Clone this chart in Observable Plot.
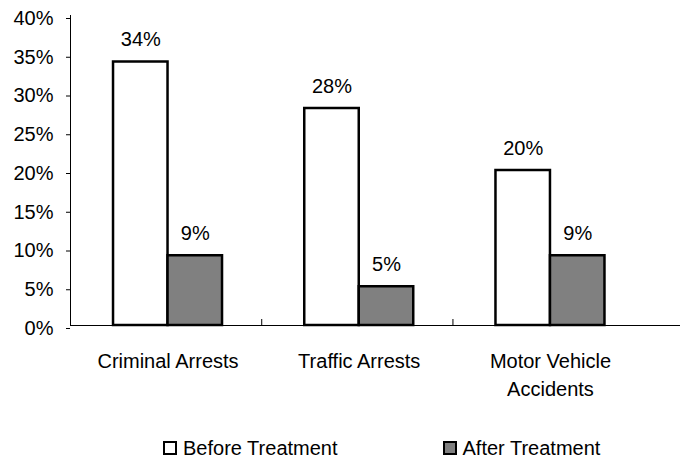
<!DOCTYPE html>
<html>
<head>
<meta charset="utf-8">
<script src="https://cdn.jsdelivr.net/npm/d3@7"></script>
<script src="https://cdn.jsdelivr.net/npm/@observablehq/plot@0.6"></script>
<style>
  html, body { margin: 0; padding: 0; background: #fff; }
  body { width: 680px; font-family: "Liberation Sans", Arial, sans-serif; }
  #chart svg { display: block; }
  #legend { display: flex; align-items: center; padding-left: 163px; margin-top: 8px; font-size: 20px; line-height: 20px; color: #000; }
  .item { display: flex; align-items: center; }
  .sw { width: 10px; height: 10px; border: 2px solid #000; margin-right: 6px; box-sizing: content-box; }
</style>
</head>
<body>
<div id="chart"></div>
<div id="legend"></div>
<script>
const categories = ["Criminal Arrests", "Traffic Arrests", "Motor Vehicle Accidents"];
const series = ["Before Treatment", "After Treatment"];
const beforeValues = [34, 28, 20];
const afterValues = [9, 5, 9];
const yTicks = [0, 5, 10, 15, 20, 25, 30, 35, 40];
const colors = ["#ffffff", "#808080"];

// layout of the two bars inside each category slot (fraction of slot)
const slotStart = [0.225, 0.51];
const slotEnd = [0.51, 0.795];

const rows = [];
categories.forEach((c, i) => {
  [beforeValues[i], afterValues[i]].forEach((v, s) => {
    rows.push({category: c, index: i, series: series[s], s, value: v});
  });
});

const chart = Plot.plot({
  width: 680,
  height: 430,
  marginLeft: 70,
  marginRight: 0,
  marginTop: 15,
  marginBottom: 105,
  style: {fontFamily: "'Liberation Sans', Arial, sans-serif", fontSize: "20px", color: "#000", background: "#fff"},
  x: {domain: [0, 3.19], axis: null},
  y: {domain: [0, 40], axis: null},
  color: {domain: series, range: colors},
  marks: [
    Plot.axisY({ticks: yTicks, tickFormat: d => d + "%", tickSize: 4, tickPadding: 13, dy: 3, label: null, fontSize: 20, stroke: "#000"}),
    Plot.axisX({ticks: [1, 2], tickFormat: () => "", tickSize: -6, label: null, stroke: "#000"}),
    Plot.ruleX([0], {stroke: "#000", strokeWidth: 1}),
    Plot.ruleY([0], {stroke: "#000", strokeWidth: 1}),
    Plot.rectY(rows, {
      x1: d => d.index + slotStart[d.s],
      x2: d => d.index + slotEnd[d.s],
      y1: 0,
      y2: "value",
      fill: "series",
      stroke: "#000",
      strokeWidth: 2.5
    }),
    Plot.text(rows, {
      x: d => d.index + (slotStart[d.s] + slotEnd[d.s]) / 2,
      y: "value",
      text: d => d.value + "%",
      lineAnchor: "bottom",
      dy: -16,
      fontSize: 20,
      fill: "#000"
    }),
    Plot.text(categories, {
      x: (d, i) => i + 0.51,
      y: () => 0,
      text: d => d,
      lineAnchor: "top",
      lineWidth: 8,
      lineHeight: 1.4,
      dy: 23,
      fontSize: 20,
      fill: "#000"
    })
  ]
});
document.getElementById("chart").appendChild(chart);

const legend = document.getElementById("legend");
series.forEach((s, i) => {
  const item = document.createElement("div");
  item.className = "item";
  if (i > 0) item.style.marginLeft = "105px";
  const sw = document.createElement("span");
  sw.className = "sw";
  sw.style.background = colors[i];
  const t = document.createElement("span");
  t.textContent = s;
  item.appendChild(sw);
  item.appendChild(t);
  legend.appendChild(item);
});
</script>
</body>
</html>
